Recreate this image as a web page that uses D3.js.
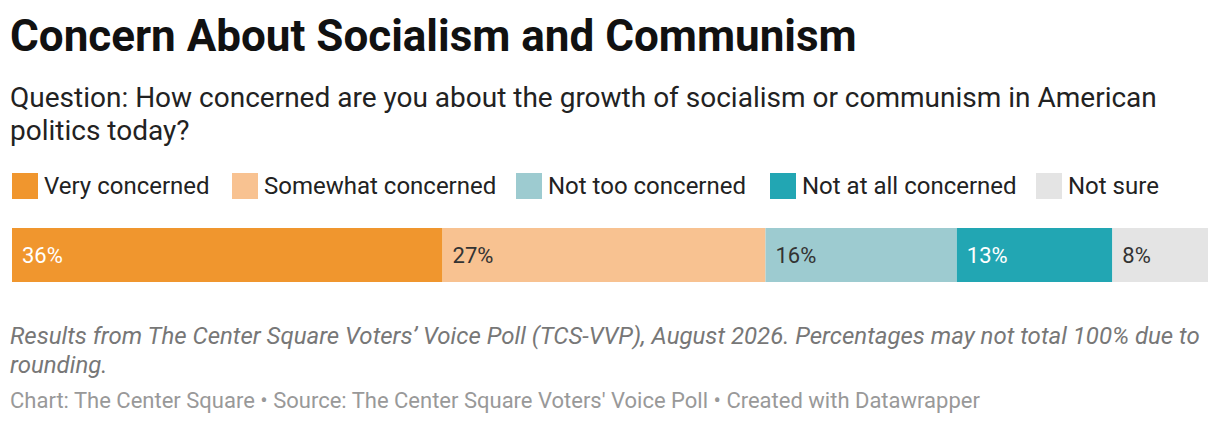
<!DOCTYPE html>
<html><head><meta charset="utf-8">
<script src="https://cdn.jsdelivr.net/npm/d3@7"></script>
<style>body{margin:0;background:#fff;font-family:Roboto,sans-serif}</style>
</head><body>
<svg width="1220" height="424"></svg>
<script>
// Data
const categories = ["Very concerned", "Somewhat concerned", "Not too concerned", "Not at all concerned", "Not sure"];
const values = [36, 27, 16, 13, 8];
const colors = ["#f0962e", "#f8c291", "#9dcbd0", "#22a6b3", "#e4e4e4"];
const labelColors = ["#fff", "#333", "#333", "#fff", "#333"];
const legendX = [12, 232, 516, 770, 1036];

let svg = d3.select("svg");

svg.append("text").attr("x", 10).attr("y", 51)
    .style("font-size", "44px").style("font-weight", 700).style("fill", "#111")
    .text("Concern About Socialism and Communism");

["Question: How concerned are you about the growth of socialism or communism in American", "politics today?"]
    .forEach((t, i) => svg.append("text").attr("x", 10).attr("y", 107 + i * 33)
        .style("font-size", "28px").style("fill", "#222").text(t));

// Legend
let leg = svg.selectAll("g.leg").data(categories).enter().append("g")
    .attr("transform", (d, i) => `translate(${legendX[i]},173)`);
leg.append("rect").attr("width", 26).attr("height", 26).attr("fill", (d, i) => colors[i]);
leg.append("text").attr("x", 32).attr("y", 21).style("font-size", "24px").style("fill", "#222").text(d => d);

// Stacked bar
let x = d3.scaleLinear().domain([0, d3.sum(values)]).range([12, 1208]);
let starts = values.map((v, i) => d3.sum(values.slice(0, i)));
svg.selectAll("rect.bar").data(values).enter().append("rect")
    .attr("x", (d, i) => x(starts[i])).attr("y", 228)
    .attr("width", (d, i) => x(starts[i] + d) - x(starts[i])).attr("height", 54)
    .attr("fill", (d, i) => colors[i]);
svg.selectAll("text.val").data(values).enter().append("text")
    .attr("x", (d, i) => x(starts[i]) + 10).attr("y", 263)
    .style("font-size", "22px").style("fill", (d, i) => labelColors[i])
    .text(d => d + "%");

// Notes
["Results from The Center Square Voters’ Voice Poll (TCS-VVP), August 2026. Percentages may not total 100% due to", "rounding."]
    .forEach((t, i) => svg.append("text").attr("x", 10).attr("y", 344 + i * 29)
        .style("font-size", "24px").style("font-style", "italic").style("fill", "#777").text(t));

svg.append("text").attr("x", 10).attr("y", 408).style("font-size", "22px").style("fill", "#999")
    .text("Chart: The Center Square • Source: The Center Square Voters' Voice Poll • Created with Datawrapper");
</script>
</body></html>
